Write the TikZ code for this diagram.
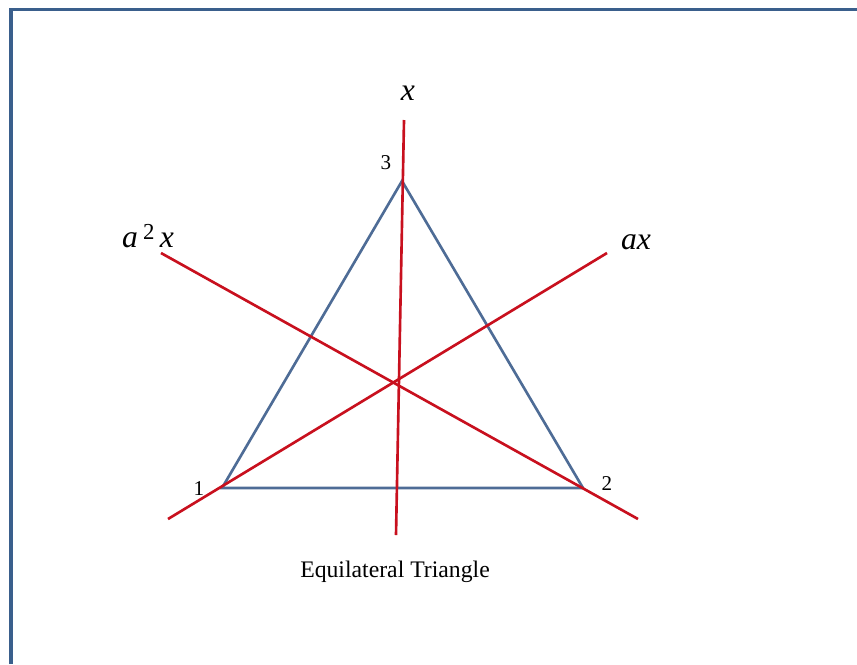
\documentclass[tikz,border=0pt]{standalone}
\usepackage{fontspec}
\setmainfont{Liberation Serif}
\usetikzlibrary{positioning, calc}
\definecolor{frameblue}{RGB}{58,95,140}
\definecolor{triblue}{RGB}{78,108,150}
\definecolor{axisred}{RGB}{200,16,30}
\tikzset{
  frm/.style={draw=frameblue, line width=2pt},
  side/.style={draw=triblue, line width=1.5pt, line join=miter},
  axis/.style={draw=axisred, line width=1.5pt},
  vlbl/.style={font=\fontsize{12}{14}\selectfont, inner sep=1pt},
  albl/.style={font=\fontsize{18}{20}\selectfont\itshape, inner sep=1pt},
}
\begin{document}
\begin{tikzpicture}[x=0.02cm, y=-0.02cm]
    \useasboundingbox (0,0) rectangle (857,664);

    % ── FRAME ───────────────────────────────────────────────
    \draw[frm] (11,664) -- (11,9.5) -- (857,9.5);

    % ── TRIANGLE ────────────────────────────────────────────
    \coordinate (v1) at (222,488);
    \coordinate (v2) at (583,488);
    \coordinate (v3) at (402,181);
    \draw[side] (v1) -- (v2) -- (v3) -- cycle;
    \node[vlbl] (n1) at (199,489) {1};
    \node[vlbl] (n2) at (607,484) {2};
    \node[vlbl] (n3) at (386,163) {3};

    % ── SYMMETRY AXES ───────────────────────────────────────
    \coordinate (xa) at (404,120); \coordinate (xb) at (396,535);
    \coordinate (ea) at (168,519); \coordinate (eb) at (607,253);
    \coordinate (fa) at (161,253); \coordinate (fb) at (638,519);
    \draw[axis] (xa) -- (xb);
    \draw[axis] (ea) -- (eb);
    \draw[axis] (fa) -- (fb);

    % ── LABELS ──────────────────────────────────────────────
    \node[albl] (lx)  at (408,93)  {x};
    \node[albl] (lax) at (636,242) {ax};
    \node[albl] (la2) at (148,236) {a\,\raisebox{0.5ex}{\upshape\fontsize{13}{15}\selectfont 2}\,x};
    \node[font=\fontsize{13.5}{16}\selectfont] (cap) at (395,572) {Equilateral Triangle};
\end{tikzpicture}
\end{document}
